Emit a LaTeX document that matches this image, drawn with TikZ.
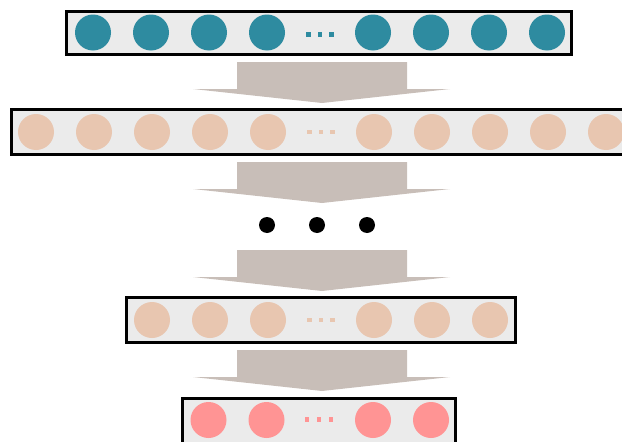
\documentclass[tikz,border=0pt]{standalone}
\begin{document}
\begin{tikzpicture}[x=1pt,y=-1pt,
  layer/.style={draw=black, line width=3pt, fill=boxgray, inner sep=0pt},
  unit/.style={circle, inner sep=0pt, minimum size=36pt},
  inunit/.style={unit, fill=tealunit},
  hidunit/.style={unit, fill=peach},
  outunit/.style={unit, fill=pinkunit},
  flow/.style={fill=arrowgray},
  gap/.style={inner sep=0pt, minimum size=4.5pt},
  bigdot/.style={circle, fill=black, inner sep=0pt, minimum width=16pt, minimum height=15pt}]
\definecolor{boxgray}{HTML}{EBEBEB}
\definecolor{tealunit}{HTML}{2E8BA0}
\definecolor{peach}{HTML}{E8C6B0}
\definecolor{pinkunit}{HTML}{FF9494}
\definecolor{arrowgray}{HTML}{C8BEB8}
\useasboundingbox (0,0) rectangle (622,442);
\clip (0,0) rectangle (622,442);

% one down-pointing flow arrow below each layer
\foreach \t in {62,162,250,350}{
  \fill[flow] (237,\t) -- (407,\t) -- (407,\t+27) -- (450,\t+27)
    -- (322,\t+41) -- (193,\t+27) -- (237,\t+27) -- cycle;
}

% input layer
\node[layer, minimum width=505pt, minimum height=43pt] (L1) at (318.5,32.5) {};
\foreach \x [count=\i] in {93,151,209,267,373,431,489,547}
  \node[inunit] (a\i) at (\x,32.5) {};
\foreach \x [count=\i] in {308.5,320,331.5}
  \node[gap, fill=tealunit] (ad\i) at (\x,34.5) {};

% first hidden layer
\node[layer, minimum width=640pt, minimum height=45pt] (L2) at (331,131.5) {};
\foreach \x [count=\i] in {36,94,152,210,268,374,432,490,548,606}
  \node[hidunit] (b\i) at (\x,132) {};
\foreach \x [count=\i] in {309.5,321,332.5}
  \node[gap, fill=peach] (bd\i) at (\x,132) {};

% elided layers
\foreach \x [count=\i] in {267,317,367}
  \node[bigdot] (m\i) at (\x,225) {};

% last hidden layer
\node[layer, minimum width=389pt, minimum height=45pt] (L3) at (320.5,319.5) {};
\foreach \x [count=\i] in {152,210,268,374,432,490}
  \node[hidunit] (c\i) at (\x,320) {};
\foreach \x [count=\i] in {309.5,321,332.5}
  \node[gap, fill=peach] (cd\i) at (\x,320) {};

% output layer
\node[layer, minimum width=273pt, minimum height=50pt] (L4) at (318.5,423) {};
\foreach \x [count=\i] in {208.5,266.5,373,431}
  \node[outunit] (d\i) at (\x,420) {};
\foreach \x [count=\i] in {307,319,331}
  \node[gap, fill=pinkunit] (dd\i) at (\x,419.5) {};
\end{tikzpicture}
\end{document}
